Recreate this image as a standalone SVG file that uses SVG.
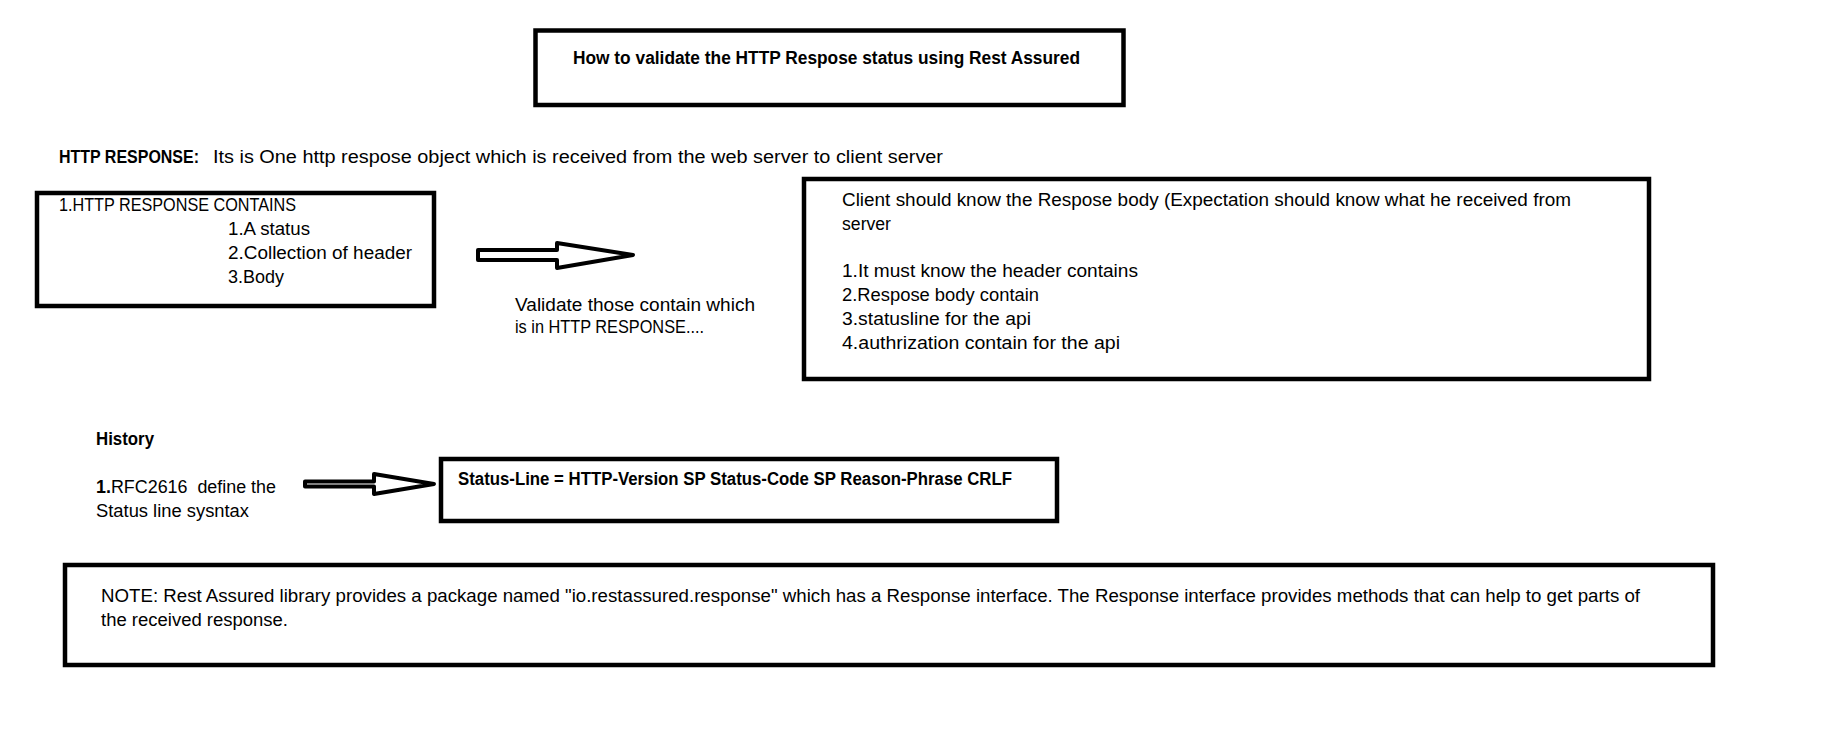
<svg xmlns="http://www.w3.org/2000/svg" width="1842" height="744" viewBox="0 0 1842 744">
<style>
.box{fill:#fff;stroke:#000;stroke-width:4.5}
.arr{fill:#fff;stroke:#000;stroke-width:4;stroke-linejoin:round}
text{font-family:"Liberation Sans",Arial,sans-serif;font-size:17.5px;fill:#000}
.b{font-weight:bold}
</style>
<rect width="1842" height="744" fill="#fff"/>
<g id="title">
<rect class="box" x="535.5" y="30.5" width="588" height="74.5"/>
<text class="b" x="573" y="64" font-size="18.5" textLength="507" lengthAdjust="spacingAndGlyphs">How to validate the HTTP Respose status using Rest Assured</text>
</g>
<g id="http-response">
<text class="b" x="59" y="163" textLength="140" lengthAdjust="spacingAndGlyphs">HTTP RESPONSE:</text>
<text x="213" y="163" textLength="730" lengthAdjust="spacingAndGlyphs">Its is One http respose object which is received from the web server to client server</text>
</g>
<g id="contains-box">
<rect class="box" x="37" y="193" width="397" height="113"/>
<text x="59" y="211" textLength="237" lengthAdjust="spacingAndGlyphs">1.HTTP RESPONSE CONTAINS</text>
<text x="228" y="235" textLength="82" lengthAdjust="spacingAndGlyphs">1.A status</text>
<text x="228" y="259" textLength="184" lengthAdjust="spacingAndGlyphs">2.Collection of header</text>
<text x="228" y="283" textLength="56" lengthAdjust="spacingAndGlyphs">3.Body</text>
</g>
<g id="validate-label">
<text x="515" y="311" textLength="240" lengthAdjust="spacingAndGlyphs">Validate those contain which</text>
<text x="515" y="333" textLength="189" lengthAdjust="spacingAndGlyphs">is in HTTP RESPONSE....</text>
</g>
<g id="client-box">
<rect class="box" x="804" y="179" width="845" height="200"/>
<text x="842" y="206" textLength="729" lengthAdjust="spacingAndGlyphs">Client should know the Respose body (Expectation should know what he received from</text>
<text x="842" y="230" textLength="49" lengthAdjust="spacingAndGlyphs">server</text>
<text x="842" y="277" textLength="296" lengthAdjust="spacingAndGlyphs">1.It must know the header contains</text>
<text x="842" y="301" textLength="197" lengthAdjust="spacingAndGlyphs">2.Respose body contain</text>
<text x="842" y="325" textLength="189" lengthAdjust="spacingAndGlyphs">3.statusline for the api</text>
<text x="842" y="349" textLength="278" lengthAdjust="spacingAndGlyphs">4.authrization contain for the api</text>
</g>
<g id="history">
<text class="b" x="96" y="445" textLength="58" lengthAdjust="spacingAndGlyphs">History</text>
<text x="96" y="493" xml:space="preserve" style="white-space:pre" textLength="180" lengthAdjust="spacingAndGlyphs"><tspan class="b">1.</tspan>RFC2616  define the</text>
<text x="96" y="517" textLength="153" lengthAdjust="spacingAndGlyphs">Status line sysntax</text>
</g>
<g id="status-line-box">
<rect class="box" x="441" y="459" width="616" height="62"/>
<text class="b" x="458" y="485" textLength="554" lengthAdjust="spacingAndGlyphs">Status-Line = HTTP-Version SP Status-Code SP Reason-Phrase CRLF</text>
</g>
<g id="note-box">
<rect class="box" x="65" y="565" width="1648" height="100"/>
<text x="101" y="602" textLength="1539" lengthAdjust="spacingAndGlyphs">NOTE: Rest Assured library provides a package named "io.restassured.response" which has a Response interface. The Response interface provides methods that can help to get parts of</text>
<text x="101" y="626" textLength="187" lengthAdjust="spacingAndGlyphs">the received response.</text>
</g>
<g id="connectors">
<polygon class="arr" points="478,250 557,250 557,243 633,255 557,268 557,260 478,260"/>
<polygon class="arr" stroke-width="3.5" points="305,481.5 374,481.5 374,474 434,484 374,494 374,486.5 305,486.5"/>
</g>
</svg>
